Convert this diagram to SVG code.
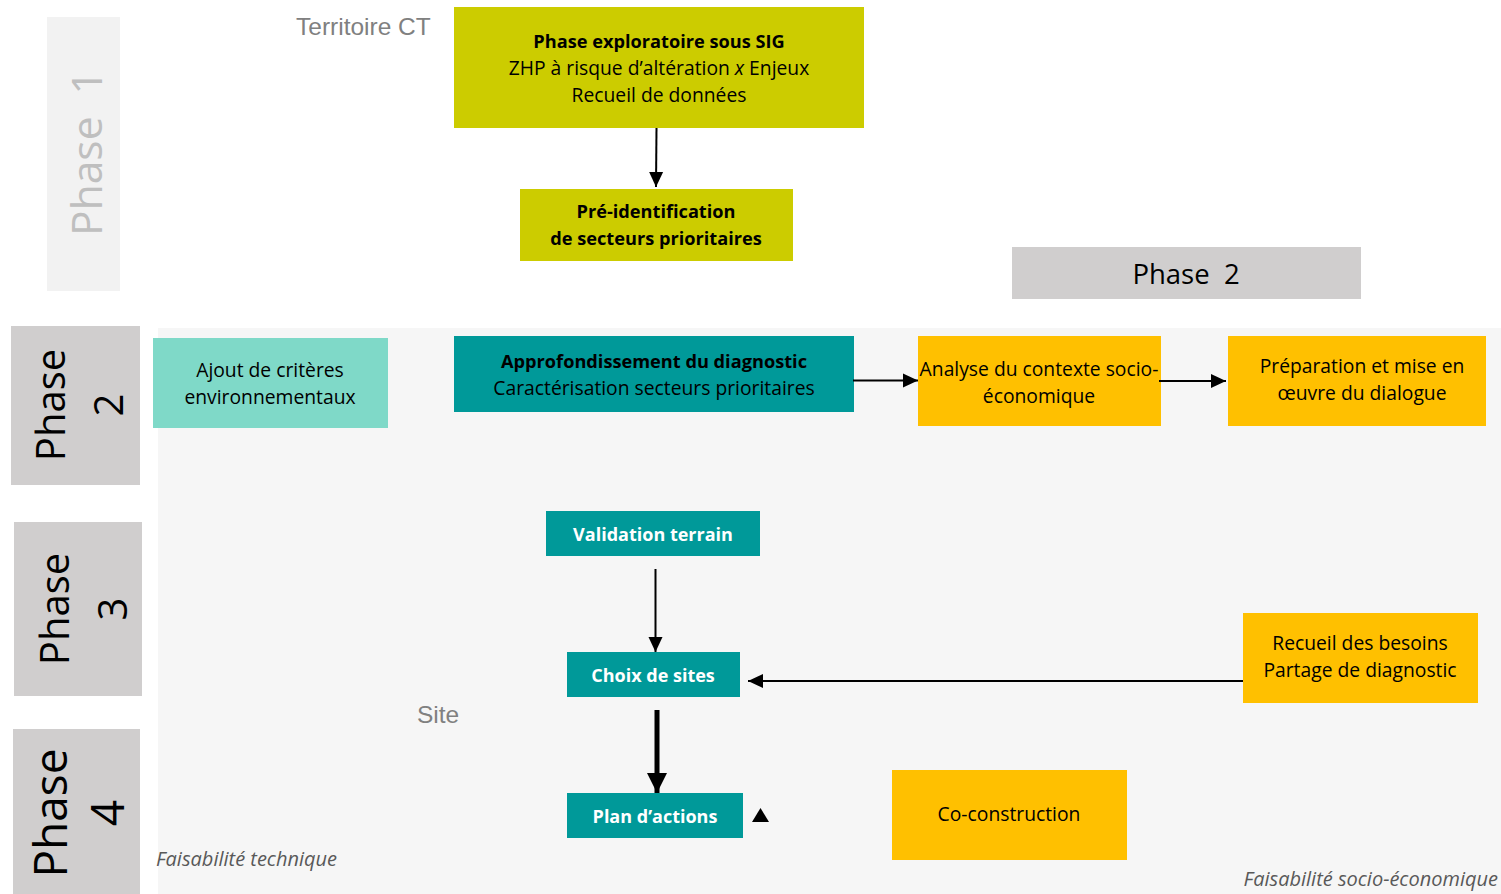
<svg xmlns="http://www.w3.org/2000/svg" width="1501" height="894" viewBox="0 0 1501 894">
<style>
.t{font-family:"Open Sans","Noto Sans",sans-serif;font-size:19.3px;fill:#000;text-anchor:middle}
.b{font-weight:bold;font-size:18.2px}
.w{fill:#fff;font-weight:bold;font-size:18px}
.ph{font-family:"Open Sans","Noto Sans",sans-serif;font-size:40px;fill:#000;text-anchor:middle}
.gr{font-family:"Liberation Sans",Arial,sans-serif;font-size:24.5px;fill:#808080}
.it{font-family:"Open Sans","Noto Sans",sans-serif;font-style:italic;font-size:20px;fill:#595959}
.y{fill:#cccc00}.o{fill:#ffc000}.tl{fill:#009999}.pb{fill:#d0cece}
.c{stroke:#000;stroke-width:2;fill:none}
</style>
<defs>
<marker id="ah" markerUnits="userSpaceOnUse" markerWidth="16" markerHeight="16" refX="15" refY="8" orient="auto"><path d="M0,1 L15,8 L0,15 Z" fill="#000"/></marker>
<marker id="ahb" markerUnits="userSpaceOnUse" markerWidth="22" markerHeight="22" refX="20" refY="11" orient="auto"><path d="M0,1 L20,11 L0,21 Z" fill="#000"/></marker>
</defs>
<rect x="0" y="0" width="1501" height="894" fill="#fff"/>
<rect id="zone" x="158" y="328" width="1343" height="566" fill="#f6f6f6"/>

<g id="phase1"><rect x="47" y="17" width="73" height="274" fill="#f2f2f2"/>
<text class="ph" style="fill:#bfbfbf;font-size:42.5px" transform="translate(0,153) rotate(-90)" x="0" y="102" xml:space="preserve">Phase  1</text></g>
<g id="territoire"><text class="gr" x="296" y="35">Territoire CT</text></g>

<g id="n-exploratoire"><rect class="y" x="454" y="7" width="410" height="121"/>
<text class="t"><tspan class="b" x="659" y="48">Phase exploratoire sous SIG</tspan><tspan x="659" y="75">ZHP à risque d’altération <tspan font-style="italic">x</tspan> Enjeux</tspan><tspan x="659" y="102">Recueil de données</tspan></text></g>

<g id="n-preid"><rect class="y" x="520" y="189" width="273" height="72"/>
<text class="t b"><tspan x="656" y="218">Pré-identification</tspan><tspan x="656" y="245">de secteurs prioritaires</tspan></text></g>

<g id="phase2-header"><rect class="pb" x="1012" y="247" width="349" height="52"/>
<text class="t" style="font-size:27.5px" x="1186" y="284" xml:space="preserve">Phase  2</text></g>

<g id="phase2"><rect class="pb" x="11" y="326" width="129" height="159"/>
<text class="ph" transform="translate(0,405) rotate(-90)"><tspan x="0" y="65">Phase</tspan><tspan x="0" y="123">2</tspan></text></g>
<g id="phase3"><rect class="pb" x="14" y="522" width="128" height="174"/>
<text class="ph" transform="translate(0,609) rotate(-90)"><tspan x="0" y="69">Phase</tspan><tspan x="0" y="127">3</tspan></text></g>
<g id="phase4"><rect class="pb" x="13" y="729" width="127" height="165"/>
<text class="ph" style="font-size:46px" transform="translate(0,813) rotate(-90)"><tspan x="0" y="67">Phase</tspan><tspan x="0" y="124">4</tspan></text></g>

<g id="n-ajout"><rect x="153" y="338" width="235" height="90" fill="#7fd9c8"/>
<text class="t"><tspan x="270" y="377">Ajout de critères</tspan><tspan x="270" y="404">environnementaux</tspan></text></g>

<g id="n-approf"><rect class="tl" x="454" y="336" width="400" height="76"/>
<text class="t"><tspan class="b" x="654" y="368">Approfondissement du diagnostic</tspan><tspan x="654" y="395">Caractérisation secteurs prioritaires</tspan></text></g>

<g id="n-analyse"><rect class="o" x="918" y="336" width="243" height="90"/>
<text class="t"><tspan x="1039" y="376">Analyse du contexte socio-</tspan><tspan x="1039" y="403">économique</tspan></text></g>

<g id="n-prep"><rect class="o" x="1228" y="336" width="258" height="90"/>
<text class="t"><tspan x="1362" y="373">Préparation et mise en</tspan><tspan x="1362" y="400">œuvre du dialogue</tspan></text></g>

<g id="n-validation"><rect class="tl" x="546" y="511" width="214" height="45"/>
<text class="t w" x="653" y="541">Validation terrain</text></g>

<g id="n-choix"><rect class="tl" x="567" y="652" width="173" height="45"/>
<text class="t w" x="653" y="682">Choix de sites</text></g>

<g id="n-recueil"><rect class="o" x="1243" y="613" width="235" height="90"/>
<text class="t"><tspan x="1360" y="650">Recueil des besoins</tspan><tspan x="1360" y="677">Partage de diagnostic</tspan></text></g>

<g id="n-plan"><rect class="tl" x="567" y="793" width="176" height="45"/>
<text class="t w" x="655" y="823">Plan d’actions</text></g>

<g id="n-coconstruction"><rect class="o" x="892" y="770" width="235" height="90"/>
<text class="t" x="1009" y="821">Co-construction</text></g>

<g id="labels">
<text class="gr" x="417" y="723">Site</text>
<text class="it" x="156" y="866">Faisabilité technique</text>
<text class="it" x="1498" y="886" text-anchor="end">Faisabilité socio-économique</text>
</g>

<g id="connectors">
<line class="c" x1="656.5" y1="128" x2="656" y2="187" marker-end="url(#ah)"/>
<line class="c" x1="853" y1="380.5" x2="918" y2="380.5" marker-end="url(#ah)"/>
<line class="c" x1="1159" y1="381" x2="1226" y2="381" marker-end="url(#ah)"/>
<line class="c" x1="655.5" y1="569" x2="655.5" y2="652" marker-end="url(#ah)"/>
<line class="c" x1="1243" y1="681" x2="748" y2="681" marker-end="url(#ah)"/>
<line class="c" style="stroke-width:5" x1="657" y1="710" x2="657" y2="793" marker-end="url(#ahb)"/>
<path d="M752,822 L760.5,808 L769,822 Z" fill="#000"/>
</g>
</svg>
